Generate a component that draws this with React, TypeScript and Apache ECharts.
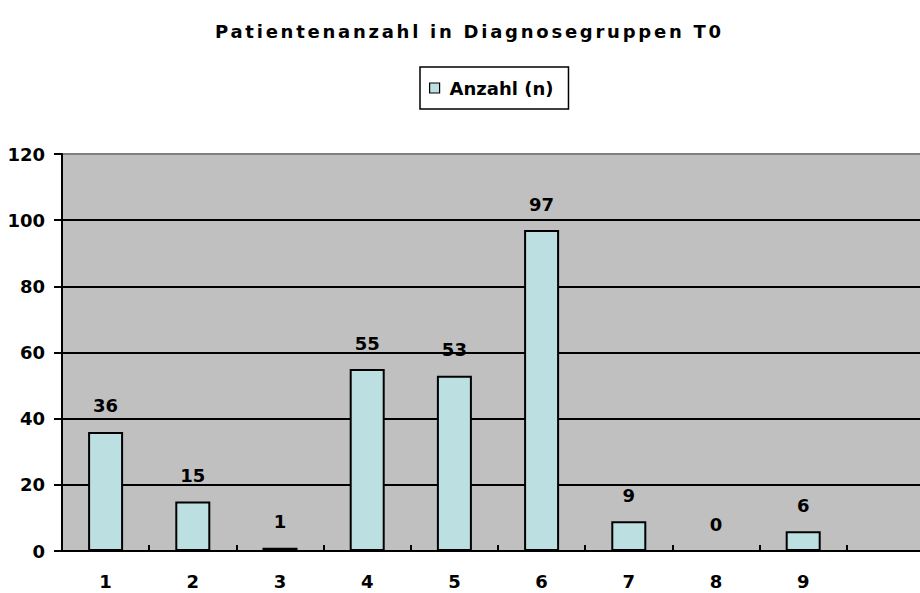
import React, { useEffect, useRef } from "react";
import * as echarts from "echarts";

const TITLE = "Patientenanzahl in Diagnosegruppen T0";
const SERIES_NAME = "Anzahl (n)";
const categories = ["1", "2", "3", "4", "5", "6", "7", "8", "9", ""];
const counts: (number | null)[] = [36, 15, 1, 55, 53, 97, 9, 0, 6, null];
const yMin = 0;
const yMax = 120;
const yStep = 20;

const FONT = "'DejaVu Sans', 'Liberation Sans', Arial, sans-serif";

export default function App() {
  const ref = useRef<HTMLDivElement>(null);
  useEffect(() => {
    if (!ref.current) return;
    const chart = echarts.init(ref.current, null, { renderer: "svg" });
    chart.setOption({
      animation: false,
      backgroundColor: "#ffffff",
      title: {
        text: TITLE,
        left: 215,
        top: 22,
        padding: 0,
        textStyle: { fontFamily: FONT, fontSize: 18, fontWeight: "bold", color: "#000" },
      },
      legend: {
        left: 420,
        top: 67,
        padding: [12, 15, 12, 9],
        borderColor: "#000",
        borderWidth: 1.5,
        backgroundColor: "#fff",
        itemWidth: 10,
        itemHeight: 10,
        itemGap: 10,
        icon: "rect",
        itemStyle: { borderColor: "#000", borderWidth: 1.2 },
        textStyle: { fontFamily: FONT, fontSize: 18, fontWeight: "bold", color: "#000", padding: [0, 0, 0, 5] },
        data: [SERIES_NAME],
      },
      grid: {
        left: 62,
        top: 154,
        width: 872,
        height: 397,
        show: true,
        backgroundColor: "#C0C0C0",
        borderColor: "#808080",
        borderWidth: 2,
        outerBoundsMode: "none",
        containLabel: false,
      },
      xAxis: {
        type: "category",
        data: categories,
        boundaryGap: true,
        axisLine: { show: true, lineStyle: { color: "#000", width: 2 } },
        axisTick: { show: true, inside: true, length: 6, lineStyle: { color: "#000", width: 2 } },
        axisLabel: {
          fontFamily: FONT,
          fontSize: 18,
          fontWeight: "bold",
          color: "#000",
          margin: 21,
        },
        splitLine: { show: false },
      },
      yAxis: {
        type: "value",
        min: yMin,
        max: yMax,
        interval: yStep,
        axisLine: { show: true, lineStyle: { color: "#000", width: 2 } },
        axisTick: { show: true, inside: false, length: 8, lineStyle: { color: "#000", width: 2 } },
        axisLabel: { fontFamily: FONT, fontSize: 18, fontWeight: "bold", color: "#000", margin: 17 },
        splitLine: { show: true, showMaxLine: false, lineStyle: { color: "#000", width: 2 } },
      },
      series: [
        {
          name: SERIES_NAME,
          type: "bar",
          data: counts,
          barWidth: 35,
          itemStyle: { color: "#BCE0E2", borderColor: "#000", borderWidth: 2 },
          label: {
            show: true,
            position: "top",
            distance: 17,
            fontFamily: FONT,
            fontSize: 18,
            fontWeight: "bold",
            color: "#000",
          },
        },
      ],
    });

    const svg = ref.current.querySelector("svg");
    if (svg) {
      svg.querySelectorAll("text").forEach((t) => {
        const s = (t.textContent || "").trim();
        if (s === TITLE) (t as SVGTextElement).style.letterSpacing = "2.75px";
      });
    }

    return () => chart.dispose();
  }, []);
  return (
    <div
      ref={ref}
      style={{ position: "fixed", left: 0, top: 0, width: 920, height: 593 }}
    />
  );
}
